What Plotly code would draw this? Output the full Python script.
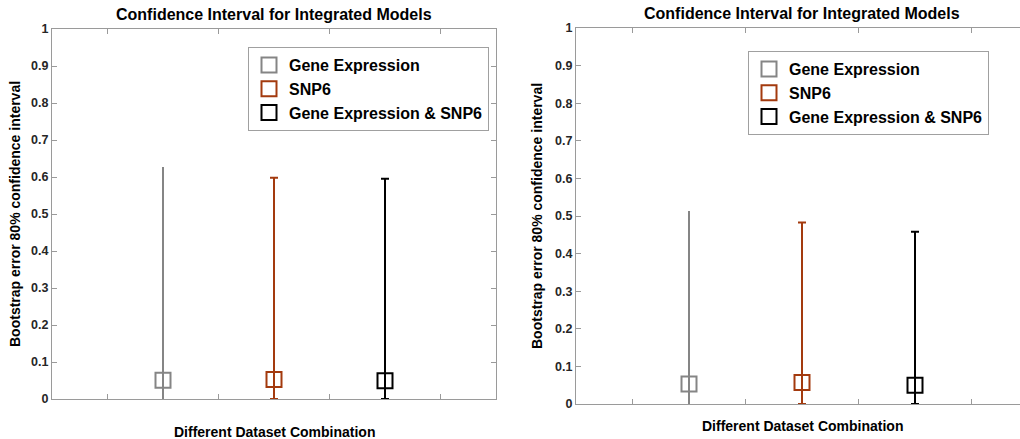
import plotly.graph_objects as go

# ---- data ----
series_names = ["Gene Expression", "SNP6", "Gene Expression & SNP6"]
series_colors = ["#858585", "#A33A0E", "#000000"]
x_positions = [1, 2, 3]

# left panel
left_center = [0.051, 0.053, 0.049]
left_upper = [0.627, 0.598, 0.595]
left_lower = [0.0, 0.0, 0.0]

# right panel
right_center = [0.053, 0.057, 0.050]
right_upper = [0.513, 0.483, 0.458]
right_lower = [0.0, 0.0, 0.0]

cap_widths = [0, 4, 4]

title_text = "Confidence Interval for Integrated Models"
xlabel_text = "Different Dataset Combination"
ylabel_text = "Bootstrap error 80% confidence interval"
ytick_vals = [0, 0.1, 0.2, 0.3, 0.4, 0.5, 0.6, 0.7, 0.8, 0.9, 1]
ytick_text = ["0", "0.1", "0.2", "0.3", "0.4", "0.5", "0.6", "0.7", "0.8", "0.9", "1"]
xtick_vals = [0.5, 1.5, 2.5, 3.5]

FONT = "Arial, Liberation Sans, sans-serif"
TXT = "#262626"
AX = "#9a9a9a"

W, H = 1020, 439

fig = go.Figure()

panels = [
    (left_center, left_upper, left_lower, "x", "y", "legend"),
    (right_center, right_upper, right_lower, "x2", "y2", "legend2"),
]
for (cen, up, lo, xa, ya, lg) in panels:
    for i, name in enumerate(series_names):
        fig.add_trace(go.Scatter(
            x=[x_positions[i]], y=[cen[i]],
            mode="markers",
            name=name,
            legend=lg,
            xaxis=xa, yaxis=ya,
            marker=dict(symbol="square-open", size=15, color=series_colors[i],
                        line=dict(width=2, color=series_colors[i])),
            error_y=dict(type="data", symmetric=False,
                         array=[up[i] - cen[i]], arrayminus=[cen[i] - lo[i]],
                         color=series_colors[i], thickness=2, width=cap_widths[i]),
            showlegend=True,
        ))

def px2x(p):
    return p / W

def px2y(p):
    return 1 - p / H

# geometry (pixels)
L = dict(x0=52, x1=496, y0=29, y1=399)
R = dict(x0=576, x1=1020, y0=28, y1=404)
right_xmax = (R["x1"] - R["x0"]) / 113.0

common_y = dict(range=[0, 1], tickvals=ytick_vals, ticktext=ytick_text,
                ticks="inside", ticklen=5, tickcolor=AX, showline=True,
                linecolor=AX, linewidth=1, showgrid=False, zeroline=False,
                automargin=False,
                tickfont=dict(family=FONT, size=12.5, color=TXT, weight="bold"))
common_x = dict(tickvals=xtick_vals, showticklabels=False, ticks="inside",
                ticklen=5, tickcolor=AX, showline=True, linecolor=AX,
                linewidth=1, showgrid=False, zeroline=False, automargin=False)

fig.update_layout(
    width=W, height=H, autosize=False,
    margin=dict(l=0, r=0, t=0, b=0, pad=0),
    paper_bgcolor="white", plot_bgcolor="white",
    font=dict(family=FONT, color=TXT),
    xaxis=dict(domain=[px2x(L["x0"]), px2x(L["x1"])], range=[0, 4], anchor="y",
               mirror="ticks", **common_x),
    yaxis=dict(domain=[px2y(L["y1"]), px2y(L["y0"])], anchor="x",
               mirror="ticks", **common_y),
    xaxis2=dict(domain=[px2x(R["x0"]), 1.0], range=[0, right_xmax], anchor="y2",
                mirror="ticks", **common_x),
    yaxis2=dict(domain=[px2y(R["y1"]), px2y(R["y0"])], anchor="x2",
                mirror=False, **common_y),
    legend=dict(x=px2x(248), y=px2y(47), xanchor="left", yanchor="top",
                bordercolor="#a0a0a0", borderwidth=1, bgcolor="white",
                font=dict(family=FONT, size=16, color="#000000", weight="bold"),
                itemclick=False),
    legend2=dict(x=px2x(748), y=px2y(51), xanchor="left", yanchor="top",
                 bordercolor="#a0a0a0", borderwidth=1, bgcolor="white",
                 font=dict(family=FONT, size=16, color="#000000", weight="bold"),
                 itemclick=False),
)

ann_font_title = dict(family=FONT, size=16, color="#000000", weight="bold")
ann_font_label = dict(family=FONT, size=14, color="#000000", weight="bold")
ann_font_ylab = dict(family=FONT, size=14, color="#000000", weight="bold")

for P, title_y, xl_y, yl_x, full_w in [(L, 15, 432, 15, 444), (R, 14, 426, 537, 452)]:
    cx = P["x0"] + full_w / 2
    fig.add_annotation(text=title_text, x=px2x(cx), y=px2y(title_y), xref="paper", yref="paper",
                       showarrow=False, xanchor="center", yanchor="middle", font=ann_font_title)
    fig.add_annotation(text=xlabel_text, x=px2x(cx), y=px2y(xl_y), xref="paper", yref="paper",
                       showarrow=False, xanchor="center", yanchor="middle", font=ann_font_label)
    fig.add_annotation(text=ylabel_text, x=px2x(yl_x), y=px2y((P["y0"] + P["y1"]) / 2),
                       xref="paper", yref="paper", showarrow=False, textangle=-90,
                       xanchor="center", yanchor="middle", font=ann_font_ylab)

fig.write_html("out.html", config={"displayModeBar": False},
               post_script="document.body.style.margin='0';document.body.style.overflow='hidden';")
